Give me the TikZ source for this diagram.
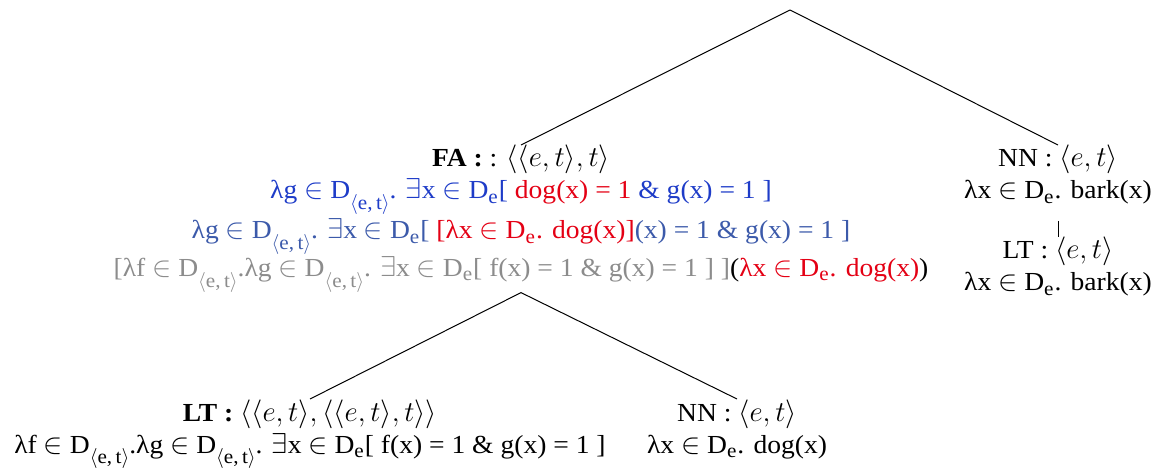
\documentclass[tikz,border=0pt]{standalone}
\usepackage{amsmath,amssymb}
\usepackage{fontspec}
\setmainfont{Liberation Serif}[FakeStretch=1.06]
\usepackage{tikz}
\usetikzlibrary{positioning}
\DeclareMathSizes{13}{15}{10}{8}

\definecolor{fablue}{RGB}{30,60,200}
\definecolor{fasteel}{RGB}{60,90,170}
\definecolor{fagray}{gray}{0.55}
\definecolor{fared}{RGB}{228,0,20}

\newcommand{\DomEt}{D\raisebox{-0.9ex}{\fontsize{10}{10}\selectfont$\langle$e,\,t$\rangle$}}
\newcommand{\DomE}{D$_{\text{e}}$}
\newcommand{\ET}{$\langle e,t\rangle$}

\tikzset{
  tnode/.style={anchor=north, align=center, inner sep=0pt,
    font=\fontsize{13}{16}\selectfont},
  branch/.style={line width=0.5pt}
}

\begin{document}
\begin{tikzpicture}[x=0.5pt,y=-0.5pt]
\useasboundingbox (0,0) rectangle (1157,470);
% root of the tree
\coordinate (root) at (790,10);
% function application node
\node[tnode] (fa) at (521,145) {%
  \textbf{FA :} : $\langle\langle e,t\rangle,t\rangle$\\
  \textcolor{fablue}{λg $\in$ \DomEt. $\exists$x $\in$ \DomE[ \textcolor{fared}{dog(x) = 1} \& g(x) = 1 ]}\\[1pt]
  \textcolor{fasteel}{λg $\in$ \DomEt. $\exists$x $\in$ \DomE[ \textcolor{fared}{[λx $\in$ \DomE. dog(x)]}(x) = 1 \& g(x) = 1 ]}\\
  \textcolor{fagray}{[λf $\in$ \DomEt.λg $\in$ \DomEt. $\exists$x $\in$ \DomE[ f(x) = 1 \& g(x) = 1 ] ]}(\textcolor{fared}{λx $\in$ \DomE. dog(x)})};
% verb side
\node[tnode] (nn) at (1058,145) {NN : \ET\\ λx $\in$ \DomE. bark(x)};
\node[tnode] (lt) at (1058,237) {LT : \ET\\ λx $\in$ \DomE. bark(x)};
% daughters of FA
\node[tnode] (ltdet) at (310,399) {%
  \textbf{LT :} $\langle\langle e,t\rangle,\langle\langle e,t\rangle,t\rangle\rangle$\\
  λf $\in$ \DomEt.λg $\in$ \DomEt. $\exists$x $\in$ \DomE[ f(x) = 1 \& g(x) = 1 ]};
\node[tnode] (nndog) at (737,399) {NN : \ET\\ λx $\in$ \DomE. dog(x)};
% branches
\draw[branch] (root) -- (fa.north);
\draw[branch] (root) -- (nn.north);
\draw[branch] ([yshift=-8pt]nn.south) -- (lt.north);
\draw[branch] (fa.south) -- (ltdet.north);
\draw[branch] (fa.south) -- (nndog.north);
\end{tikzpicture}
\end{document}
